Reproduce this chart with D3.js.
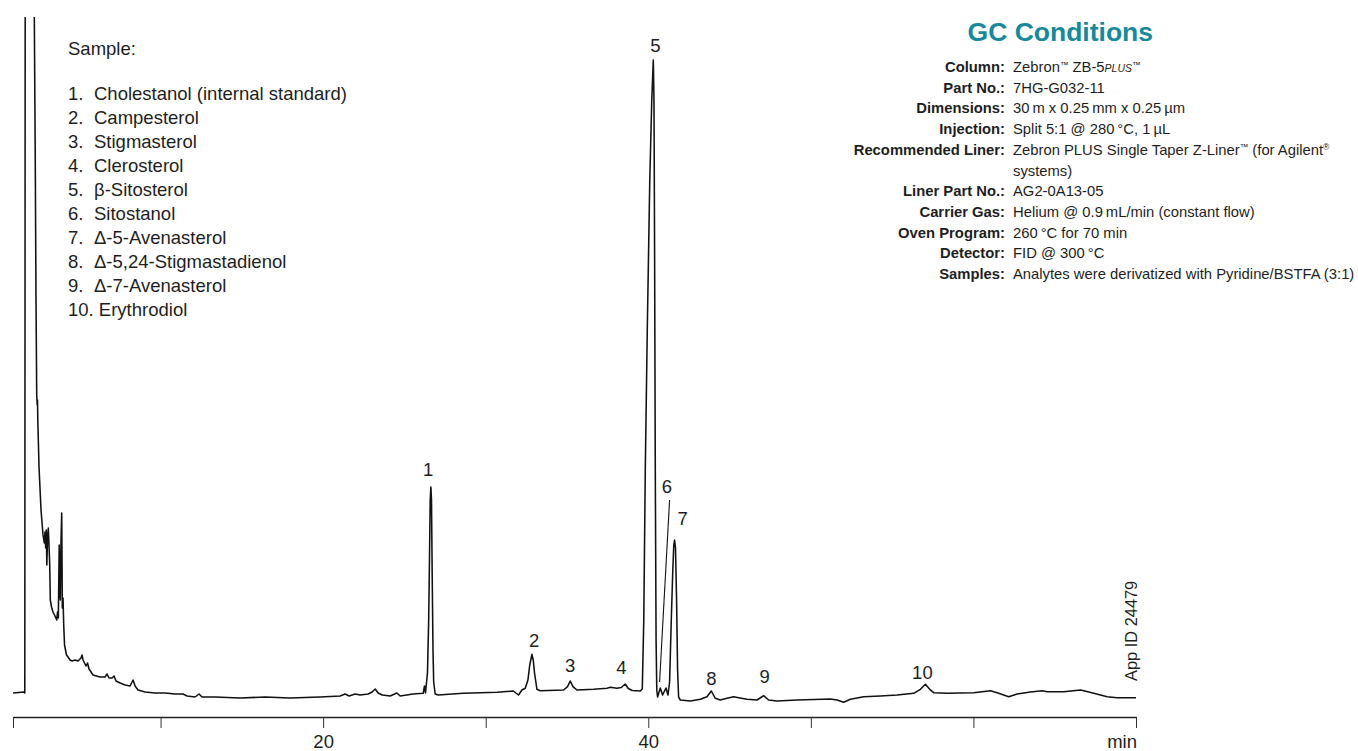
<!DOCTYPE html>
<html><head><meta charset="utf-8">
<script src="https://cdn.jsdelivr.net/npm/d3@7"></script>
<style>
html,body{margin:0;padding:0;background:#fff;}
svg{display:block;font-family:"Liberation Sans",Arial,Helvetica,sans-serif;}
</style></head><body>
<svg id="chart" width="1358" height="751"></svg>
<script>
// ---- Data (retention time in min, detector signal in arbitrary units) ----
const timeMin = [
0.923,1.600,1.649,1.680,2.203,2.234,2.289,2.338,2.382,2.412,2.431,2.449,2.523,2.646,2.769,2.849,2.892,2.935,2.972,3.003,
3.046,3.095,3.138,3.182,3.218,3.292,3.385,3.508,3.612,3.662,3.711,3.766,3.803,3.834,3.877,3.920,3.957,4.000,4.043,4.092,
4.154,4.215,4.308,4.431,4.554,4.738,4.923,5.108,5.169,5.231,5.415,5.508,5.600,5.846,6.277,6.585,6.708,6.831,7.015,7.138,
7.262,7.508,7.815,8.123,8.308,8.431,8.615,9.046,9.662,10.277,10.892,11.385,11.631,12.123,12.369,12.554,13.354,14.892,16.431,17.969,
19.815,21.046,21.354,21.600,21.969,22.277,22.769,23.015,23.200,23.385,23.631,24.123,24.535,24.738,25.538,26.154,26.234,26.295,26.418,26.492,
26.541,26.585,26.628,26.665,26.708,26.757,26.800,26.892,27.077,28.615,30.708,31.692,32.018,32.228,32.431,32.597,32.708,32.843,32.923,33.003,
33.151,33.354,34.788,35.034,35.200,35.366,35.612,36.634,37.458,37.662,38.074,38.338,38.585,38.769,39.015,39.508,39.631,39.723,39.815,39.938,
40.092,40.215,40.308,40.351,40.388,40.431,40.480,40.523,40.572,40.738,40.880,41.089,41.212,41.311,41.415,41.508,41.569,41.618,41.674,41.741,
41.803,41.865,41.969,42.585,43.200,43.612,43.877,44.123,44.431,44.843,45.249,45.557,46.074,46.689,47.095,47.403,47.920,49.151,51.200,51.612,
52.018,52.431,53.249,54.277,55.305,56.326,56.738,57.046,57.311,57.557,58.382,60.020,61.046,61.458,62.172,62.689,63.508,64.228,64.535,65.557,
66.585,66.788,67.403,68.228,68.843,70.000
];
const signal = [
2,3,2,900,900,678,545,395,300,290,295,275,228,185,160,152,163,147,165,130,
155,167,150,130,95,88,83,79,75,83,77,150,105,95,155,182,87,97,70,50,
45,40,38,35,34,35,34,37,40,35,29,32,26,20,18,18,21,17,17,19,
14,12,10,9,15,9,5,3,2,2,1,1,-1,-2,1,-2,-2,-3,-2,-3,
-2,-1,1,-1,1,0,1,3,6,2,0,-1,2,-1,1,1.7,9,2,22,75,
135,195,208,195,120,45,13,1,0,1.7,2.7,4,0,5,6.7,15,30,40.7,35,22,
5.7,4.3,5,8.3,14,8.3,5,5.7,6.7,7.7,6.7,7.5,11,6.5,4.5,4,6,75,225,365,
515,595,635,595,445,225,55,5,-2,7,0,7,0,13,75,125,150,155,147,95,
25,-2,-5,-6,-4.3,-1.7,4,-3.3,-5,-3.3,-1.7,-2.7,-4.3,-5,-0.7,-5,-6,-5,-4,-5,
-7.3,-4.3,-1.7,-1,0,1.7,5.7,10.7,5.7,2.3,1.7,2.3,4.3,2.3,-1.7,1,3,4.3,3.3,3.3,
5,4.3,1.7,-1.7,-2.7,-2.7
];

const peakNumbers = [1,2,3,4,5,6,7,8,9,10];
const peakTimes   = [26.628,32.843,35.200,38.585,40.308,40.738,41.618,43.877,47.095,57.046];

const sampleTitle = "Sample:";
const sampleNumbers = ["1.","2.","3.","4.","5.","6.","7.","8.","9.","10."];
const sampleNames = ["Cholestanol (internal standard)","Campesterol","Stigmasterol","Clerosterol",
  "\u03B2-Sitosterol","Sitostanol","\u0394-5-Avenasterol","\u0394-5,24-Stigmastadienol","\u0394-7-Avenasterol","Erythrodiol"];

const conditionsTitle = "GC Conditions";
const conditionLabels = ["Column:","Part No.:","Dimensions:","Injection:","Recommended Liner:","",
  "Liner Part No.:","Carrier Gas:","Oven Program:","Detector:","Samples:"];
const conditionValues = ["Zebron\u2122 ZB-5PLUS\u2122","7HG-G032-11","30\u2009m x 0.25\u2009mm x 0.25\u2009\u00B5m",
  "Split 5:1 @ 280\u2009\u00B0C, 1\u2009\u00B5L","Zebron PLUS Single Taper Z-Liner\u2122 (for Agilent\u00AE","systems)",
  "AG2-0A13-05","Helium @ 0.9\u2009mL/min (constant flow)","260\u2009\u00B0C for 70 min","FID @ 300\u2009\u00B0C",
  "Analytes were derivatized with Pyridine/BSTFA (3:1)"];

const xTickValues = [0.923,10,20,30,40,50,60,70];
const xTickLabels = ["","","20","","40","","",""];
const xUnit = "min";
const appId = "App ID 24479";

// ---- Layout / style ----
const svg = d3.select("#chart");
const x = d3.scaleLinear().domain([0.923, 70]).range([13, 1136]);
const y = d3.scaleLinear().domain([0, 678]).range([695, 17]);
const axisY = 717;
const textColor = "#1e1e1e";

svg.append("defs").append("clipPath").attr("id","plotClip")
  .append("rect").attr("x",0).attr("y",17).attr("width",1358).attr("height",700);

const pts = timeMin.map((t,i)=>({t, v: signal[i]}));
const line = d3.line().x(d=>x(d.t)).y(d=>y(d.v));
svg.append("path").datum(pts)
  .attr("clip-path","url(#plotClip)")
  .attr("d", line)
  .attr("fill","none").attr("stroke","#111").attr("stroke-width",1.55)
  .attr("stroke-linejoin","round");

// axis
const axis = d3.axisBottom(x).tickValues(xTickValues).tickSize(11).tickSizeOuter(0)
  .tickFormat((d,i)=>xTickLabels[i]);
const gAx = svg.append("g").attr("transform",`translate(0,${axisY})`).call(axis);
gAx.select(".domain").attr("stroke","#222").attr("stroke-width",1.3);
gAx.selectAll(".tick line").attr("stroke","#333").attr("stroke-width",1);
gAx.selectAll(".tick text").attr("y",31).attr("dy",0)
  .attr("font-size",18.5).attr("fill",textColor)
  .attr("font-family","'Liberation Sans',Arial,sans-serif");
svg.append("text").attr("x",x(70)+1).attr("y",748).attr("text-anchor","end")
  .attr("font-size",18.5).attr("fill",textColor).text(xUnit);

// peak labels
function apexOf(tp){
  let best = null;
  pts.forEach(p=>{ if (Math.abs(p.t-tp) < 0.03 && (best===null || p.v>best.v)) best = p; });
  return best;
}
const labelNudge = {1:[-2.7,-10.7],2:[2.3,-7],3:[0,-9],4:[-4,-10],5:[2,-8],6:[6.7,-195],
  7:[8,-15],8:[0,-6],9:[1,-12.7],10:[-3,-5.3]};
peakNumbers.forEach((n,i)=>{
  const a = apexOf(peakTimes[i]);
  const px = x(a.t), py = y(a.v);
  const [dx,dy] = labelNudge[n];
  svg.append("text").attr("x",px+dx).attr("y",py+dy).attr("text-anchor","middle")
    .attr("font-size",18.5).attr("fill",textColor).text(n);
  if (n===6){
    svg.append("line").attr("x1",px-0.7).attr("y1",py-6).attr("x2",px+9.3).attr("y2",py+dy+7)
      .attr("stroke","#111").attr("stroke-width",1.1);
  }
});

// sample list
svg.append("text").attr("x",68).attr("y",55).attr("font-size",18.5).attr("fill",textColor).text(sampleTitle);
sampleNames.forEach((name,i)=>{
  const yy = 100 + i*24;
  if (sampleNumbers[i].length > 2){
    svg.append("text").attr("x",68).attr("y",yy).attr("font-size",18.5).attr("fill",textColor)
      .text(sampleNumbers[i] + " " + name);
  } else {
    svg.append("text").attr("x",68).attr("y",yy).attr("font-size",18.5).attr("fill",textColor).text(sampleNumbers[i]);
    svg.append("text").attr("x",94).attr("y",yy).attr("font-size",18.5).attr("fill",textColor).text(name);
  }
});

// GC conditions
svg.append("text").attr("x",1153).attr("y",41).attr("text-anchor","end")
  .attr("font-size",26.5).attr("font-weight","bold").attr("fill","#17899b").text(conditionsTitle);

function rich(sel, str){
  const parts = str.split(/(\u2122|\u00AE|(?<=ZB-5)PLUS)/).filter(s=>s.length);
  let shift = 0;
  parts.forEach(p=>{
    if (p==="\u2122" || p==="\u00AE"){
      sel.append("tspan").attr("font-size",8.5).attr("dy",-4.5 - shift).text(p);
      shift = -4.5;
    } else if (p==="PLUS"){
      sel.append("tspan").attr("font-size",10.5).attr("font-style","italic").attr("dy",-shift).text(p);
      shift = 0;
    } else {
      sel.append("tspan").attr("dy",-shift).text(p);
      shift = 0;
    }
  });
}
conditionLabels.forEach((lab,i)=>{
  const yy = 72 + i*20.7;
  if (lab){
    svg.append("text").attr("x",1005).attr("y",yy).attr("text-anchor","end")
      .attr("font-size",14.8).attr("font-weight","bold").attr("fill",textColor).text(lab);
  }
  const t = svg.append("text").attr("x",1013).attr("y",yy).attr("font-size",14.8).attr("fill",textColor);
  rich(t, conditionValues[i]);
});

// App ID
svg.append("text").attr("transform","translate(1137,681) rotate(-90)")
  .attr("font-size",16.4).attr("fill",textColor).text(appId);
</script>
</body></html>
